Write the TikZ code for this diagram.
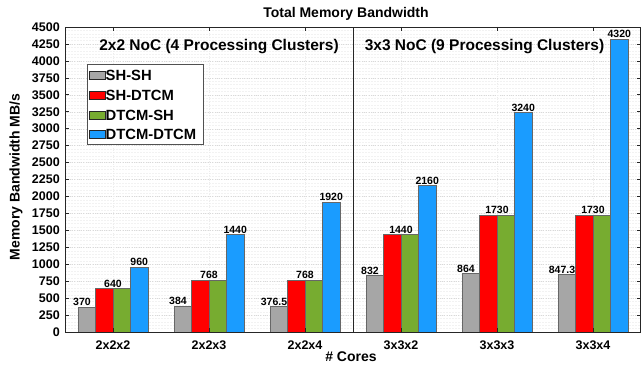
\documentclass[tikz,border=0pt]{standalone}
\usepackage{fontspec}
\setmainfont{Liberation Sans}
\definecolor{cgray}{HTML}{A6A6A6}
\definecolor{cred}{HTML}{FF0000}
\definecolor{cgreen}{HTML}{77AC30}
\definecolor{cblue}{HTML}{1A9CFF}
\definecolor{axisc}{HTML}{262626}
\begin{document}
\begin{tikzpicture}[x=1pt,y=1pt,font=\bfseries,
  bar/.style={draw=axisc!70,line width=0.4pt},
  val/.style={font=\fontsize{10.5}{12}\selectfont\bfseries,anchor=south,inner sep=1pt},
  ticklab/.style={font=\fontsize{12.5}{14}\selectfont\bfseries,inner sep=0pt},
  axline/.style={draw=axisc,line width=0.8pt},
  bigtxt/.style={font=\fontsize{15.5}{18}\selectfont\bfseries},
  legtxt/.style={font=\fontsize{14.8}{16}\selectfont\bfseries,anchor=west,inner sep=0pt},
  swatch/.style={draw=axisc,line width=0.6pt,minimum width=16pt,minimum height=8pt,inner sep=0pt}]
\useasboundingbox (0,0) rectangle (641,369);
\fill[white] (0,0) rectangle (641,369);
\begin{scope}[shift={(0,37)},y=0.0677778pt]
  % grid
  \foreach \v in {50,100,...,4450}
    \draw[gray!10,line width=0.3pt,dash pattern=on 2pt off 1pt] (65,\v) -- (640,\v);
  \foreach \v in {250,500,...,4250}
    \draw[gray!30,line width=0.3pt,dotted] (65,\v) -- (640,\v);
  \foreach \i in {1,...,6}
    \draw[gray!15,line width=0.3pt,dotted] ({113+96*(\i-1)},0) -- ({113+96*(\i-1)},4500);
  % bars
  \foreach \i/\a/\b/\d in {1/370/640/960,2/384/768/1440,3/376.5/768/1920,4/832/1440/2160,5/864/1730/3240,6/847.3/1730/4320}{
    \pgfmathsetmacro\c{113+96*(\i-1)}
    \draw[bar,fill=cgray] (\c-35,0) rectangle (\c-17.5,\a);
    \draw[bar,fill=cred] (\c-17.5,0) rectangle (\c,\b);
    \draw[bar,fill=cgreen] (\c,0) rectangle (\c+17.5,\b);
    \draw[bar,fill=cblue] (\c+17.5,0) rectangle (\c+35,\d);
    \node[val] (vg\i) at (\c-31,\a) {\a};
    \node[val] (vr\i) at (\c,\b) {\b};
    \node[val] (vb\i) at (\c+26.25,\d) {\d};
  }
  % axes
  \draw[axline] (353,0) -- (353,4500);
  \draw[axline] (65,0) rectangle (640.5,4500);
  \foreach \v in {0,250,...,4500}{
    \draw[axline,line width=0.6pt] (65,\v) -- ++(4pt,0);
    \draw[axline,line width=0.6pt] (640.5,\v) -- ++(-4pt,0);
    \node[ticklab,anchor=east] (t\v) at (60,\v) {\v};
  }
  \foreach \i in {1,...,6}{
    \draw[axline,line width=0.6pt] ({113+96*(\i-1)},0) -- ++(0,4pt);
    \draw[axline,line width=0.6pt] ({113+96*(\i-1)},4500) -- ++(0,-4pt);
  }
\end{scope}
% group labels
\foreach \i/\t in {1/2x2x2,2/2x2x3,3/2x2x4,4/3x3x2,5/3x3x3,6/3x3x4}
  \node[ticklab] (gl\i) at ({113+96*(\i-1)},24) {\t};
% titles
\node[font=\fontsize{14}{16}\selectfont\bfseries] (title) at (346,355) {Total Memory Bandwidth};
\node[font=\fontsize{14}{16}\selectfont\bfseries] (xlab) at (351,12) {\# Cores};
\node[font=\fontsize{14}{16}\selectfont\bfseries,rotate=90] (ylab) at (16,192) {Memory Bandwidth MB/s};
\node[bigtxt] (p1) at (219,322) {2x2 NoC (4 Processing Clusters)};
\node[bigtxt] (p2) at (484.5,322) {3x3 NoC (9 Processing Clusters)};
% legend
\draw[fill=white,draw=axisc!80,line width=0.6pt] (87,305) rectangle (203,225);
\foreach \k/\col/\t/\yy in {1/cgray/SH-SH/294,2/cred/SH-DTCM/274,3/cgreen/DTCM-SH/254,4/cblue/DTCM-DTCM/235}{
  \node[swatch,fill=\col] (sw\k) at (97,\yy) {};
  \node[legtxt] (lt\k) at (105.5,\yy) {\t};
}
\end{tikzpicture}
\end{document}
